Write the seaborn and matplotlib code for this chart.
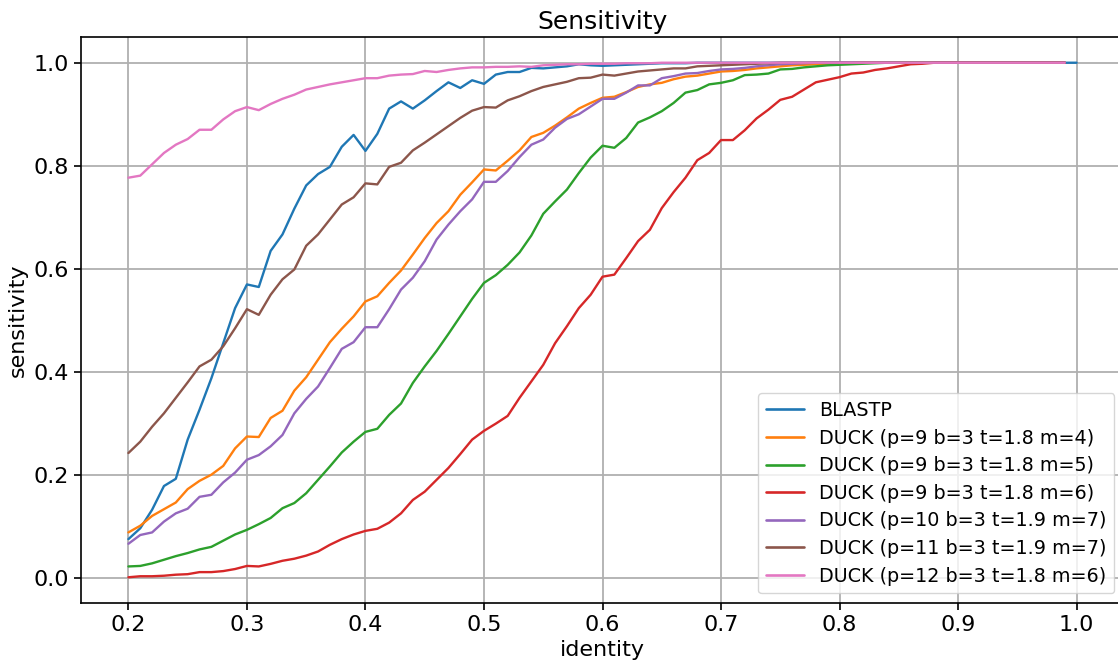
import numpy as np
import pandas as pd
import matplotlib
matplotlib.use("Agg")
import matplotlib.pyplot as plt
import seaborn as sns

identity_duck = [round(0.20 + 0.01 * i, 2) for i in range(80)]
identity_blast = [round(0.20 + 0.01 * i, 2) for i in range(81)]

blastp = [0.076, 0.097, 0.133, 0.179, 0.193, 0.269, 0.327, 0.388, 0.456, 0.524,
          0.570, 0.565, 0.635, 0.667, 0.717, 0.762, 0.784, 0.798, 0.837, 0.860,
          0.829, 0.862, 0.911, 0.925, 0.911, 0.927, 0.945, 0.962, 0.951, 0.966,
          0.959, 0.977, 0.982, 0.982, 0.990, 0.989, 0.991, 0.993, 0.997, 0.995,
          0.994, 0.995, 0.996, 0.997, 0.998, 0.999, 0.999, 0.999, 1.0, 1.0,
          1.0, 1.0, 1.0, 1.0, 1.0, 1.0, 1.0, 1.0, 1.0, 1.0,
          1.0, 1.0, 1.0, 1.0, 1.0, 1.0, 1.0, 1.0, 1.0, 1.0,
          1.0, 1.0, 1.0, 1.0, 1.0, 1.0, 1.0, 1.0, 1.0, 1.0, 1.0]

duck_m4 = [0.089, 0.102, 0.121, 0.134, 0.147, 0.173, 0.189, 0.201, 0.218, 0.252,
           0.275, 0.274, 0.311, 0.325, 0.364, 0.390, 0.424, 0.458, 0.484, 0.508,
           0.537, 0.547, 0.573, 0.597, 0.628, 0.660, 0.689, 0.712, 0.744, 0.768,
           0.793, 0.791, 0.810, 0.830, 0.856, 0.864, 0.878, 0.894, 0.911, 0.922,
           0.932, 0.934, 0.943, 0.953, 0.958, 0.961, 0.968, 0.973, 0.975, 0.979,
           0.983, 0.984, 0.986, 0.989, 0.991, 0.993, 0.995, 0.996, 0.997, 0.998,
           0.999, 0.999, 1.0, 1.0, 1.0, 1.0, 1.0, 1.0, 1.0, 1.0,
           1.0, 1.0, 1.0, 1.0, 1.0, 1.0, 1.0, 1.0, 1.0, 1.0]

duck_m5 = [0.023, 0.024, 0.029, 0.036, 0.043, 0.049, 0.056, 0.061, 0.073, 0.085,
           0.094, 0.105, 0.117, 0.136, 0.146, 0.165, 0.191, 0.217, 0.244, 0.265,
           0.284, 0.290, 0.317, 0.339, 0.379, 0.411, 0.441, 0.474, 0.508, 0.542,
           0.573, 0.588, 0.608, 0.632, 0.665, 0.707, 0.731, 0.754, 0.786, 0.816,
           0.839, 0.835, 0.854, 0.884, 0.894, 0.906, 0.922, 0.942, 0.947, 0.958,
           0.961, 0.966, 0.976, 0.977, 0.979, 0.987, 0.988, 0.991, 0.993, 0.995,
           0.996, 0.997, 0.998, 0.999, 1.0, 1.0, 1.0, 1.0, 1.0, 1.0,
           1.0, 1.0, 1.0, 1.0, 1.0, 1.0, 1.0, 1.0, 1.0, 1.0]

duck_m6 = [0.002, 0.004, 0.004, 0.005, 0.007, 0.008, 0.012, 0.012, 0.014, 0.018,
           0.024, 0.023, 0.028, 0.034, 0.038, 0.044, 0.052, 0.065, 0.076, 0.085,
           0.092, 0.096, 0.108, 0.126, 0.152, 0.168, 0.191, 0.214, 0.241, 0.269,
           0.286, 0.300, 0.315, 0.350, 0.382, 0.414, 0.456, 0.489, 0.524, 0.550,
           0.585, 0.589, 0.621, 0.654, 0.676, 0.718, 0.749, 0.777, 0.811, 0.825,
           0.850, 0.850, 0.869, 0.892, 0.909, 0.928, 0.934, 0.948, 0.962, 0.967,
           0.972, 0.979, 0.981, 0.986, 0.989, 0.993, 0.997, 0.998, 1.0, 1.0,
           1.0, 1.0, 1.0, 1.0, 1.0, 1.0, 1.0, 1.0, 1.0, 1.0]

duck_p10 = [0.067, 0.084, 0.089, 0.110, 0.126, 0.135, 0.158, 0.162, 0.186, 0.205,
            0.230, 0.239, 0.256, 0.278, 0.320, 0.348, 0.372, 0.408, 0.445, 0.458,
            0.487, 0.487, 0.522, 0.560, 0.583, 0.615, 0.657, 0.686, 0.712, 0.735,
            0.769, 0.769, 0.790, 0.817, 0.841, 0.851, 0.874, 0.891, 0.900, 0.915,
            0.930, 0.930, 0.942, 0.956, 0.956, 0.970, 0.974, 0.979, 0.980, 0.984,
            0.987, 0.988, 0.990, 0.993, 0.995, 0.997, 0.998, 0.999, 1.0, 1.0,
            1.0, 1.0, 1.0, 1.0, 1.0, 1.0, 1.0, 1.0, 1.0, 1.0,
            1.0, 1.0, 1.0, 1.0, 1.0, 1.0, 1.0, 1.0, 1.0, 1.0]

duck_p11 = [0.243, 0.265, 0.294, 0.320, 0.350, 0.380, 0.411, 0.424, 0.450, 0.485,
            0.522, 0.511, 0.550, 0.580, 0.599, 0.645, 0.667, 0.696, 0.725, 0.739,
            0.766, 0.764, 0.798, 0.806, 0.830, 0.845, 0.861, 0.877, 0.893, 0.907,
            0.914, 0.913, 0.927, 0.935, 0.945, 0.953, 0.958, 0.963, 0.970, 0.971,
            0.977, 0.975, 0.979, 0.983, 0.985, 0.987, 0.989, 0.989, 0.993, 0.994,
            0.995, 0.996, 0.997, 0.998, 0.999, 1.0, 1.0, 1.0, 1.0, 1.0,
            1.0, 1.0, 1.0, 1.0, 1.0, 1.0, 1.0, 1.0, 1.0, 1.0,
            1.0, 1.0, 1.0, 1.0, 1.0, 1.0, 1.0, 1.0, 1.0, 1.0]

duck_p12 = [0.777, 0.781, 0.803, 0.825, 0.841, 0.852, 0.870, 0.870, 0.890, 0.906,
            0.914, 0.908, 0.920, 0.930, 0.938, 0.948, 0.953, 0.958, 0.962, 0.966,
            0.970, 0.970, 0.975, 0.977, 0.978, 0.984, 0.982, 0.986, 0.989, 0.991,
            0.991, 0.992, 0.992, 0.993, 0.992, 0.995, 0.996, 0.997, 0.997, 0.998,
            0.998, 0.998, 0.999, 0.999, 0.999, 1.0, 1.0, 1.0, 1.0, 1.0,
            1.0, 1.0, 1.0, 1.0, 1.0, 1.0, 1.0, 1.0, 1.0, 1.0,
            1.0, 1.0, 1.0, 1.0, 1.0, 1.0, 1.0, 1.0, 1.0, 1.0,
            1.0, 1.0, 1.0, 1.0, 1.0, 1.0, 1.0, 1.0, 1.0, 1.0]

labels = ["BLASTP",
          "DUCK (p=9 b=3 t=1.8 m=4)",
          "DUCK (p=9 b=3 t=1.8 m=5)",
          "DUCK (p=9 b=3 t=1.8 m=6)",
          "DUCK (p=10 b=3 t=1.9 m=7)",
          "DUCK (p=11 b=3 t=1.9 m=7)",
          "DUCK (p=12 b=3 t=1.8 m=6)"]
series = [blastp, duck_m4, duck_m5, duck_m6, duck_p10, duck_p11, duck_p12]
xs = [identity_blast] + [identity_duck] * 6

frames = []
for lab, x, y in zip(labels, xs, series):
    frames.append(pd.DataFrame({"identity": x, "sensitivity": y, "method": lab}))
df = pd.concat(frames, ignore_index=True)

sns.set_style("ticks", rc={"text.color": "black", "axes.labelcolor": "black",
                           "xtick.color": "black", "ytick.color": "black",
                           "axes.edgecolor": "black"})
plt.rcParams["font.family"] = ["DejaVu Sans"]

fig = plt.figure(figsize=(11.18, 6.66), dpi=100)
ax = fig.add_axes([81 / 1118, 63 / 666, 1043 / 1118, 566 / 666])

sns.lineplot(data=df, x="identity", y="sensitivity", hue="method",
             hue_order=labels, palette=sns.color_palette("tab10", 7),
             linewidth=1.7, ax=ax, estimator=None, sort=False)

ax.grid(True, color="#b0b0b0", linewidth=1.3)
ax.set_axisbelow(True)
ax.set_xticks([0.2, 0.3, 0.4, 0.5, 0.6, 0.7, 0.8, 0.9, 1.0])
ax.set_yticks([0.0, 0.2, 0.4, 0.6, 0.8, 1.0])
ax.tick_params(labelsize=16, length=5, width=1.2, colors="black")
ax.set_xlabel("identity", fontsize=16, color="black")
ax.set_ylabel("sensitivity", fontsize=16, color="black")
ax.set_title("Sensitivity", fontsize=18, color="black")
for s in ax.spines.values():
    s.set_linewidth(1.2)
    s.set_color("black")

leg = ax.legend(loc="lower right", fontsize=13.8, title=None, frameon=True,
                labelspacing=0.45)
for line in leg.get_lines():
    line.set_linewidth(1.9)
for t in leg.get_texts():
    t.set_color("black")

fig.savefig("out.png", dpi=100)
